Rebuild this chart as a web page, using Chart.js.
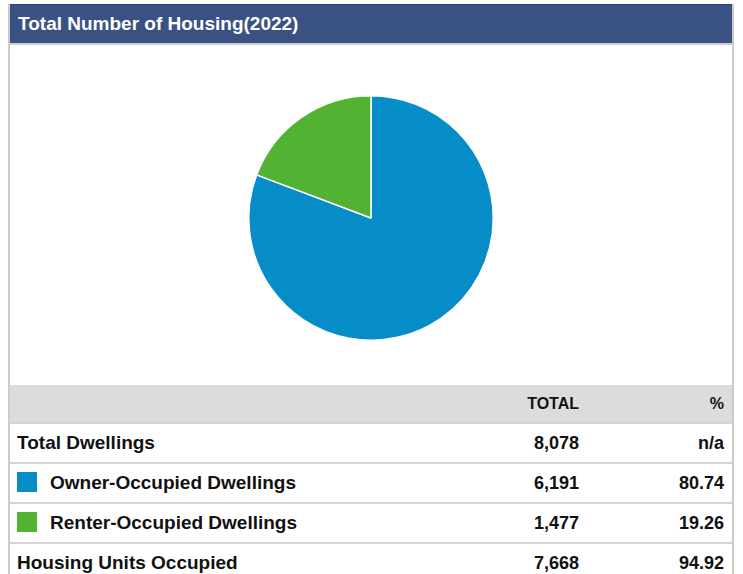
<!DOCTYPE html>
<html>
<head>
<meta charset="utf-8">
<script src="https://cdn.jsdelivr.net/npm/chart.js@4/dist/chart.umd.min.js"></script>
<style>
  html, body { margin: 0; padding: 0; background: #ffffff; }
  body { font-family: "Liberation Sans", Arial, sans-serif; }
  #frame {
    position: absolute; left: 8px; top: 4px; width: 722px;
    border-left: 2px solid #cccccc; border-right: 2px solid #cccccc;
  }
  #title {
    height: 38px; background: #3a5184; border-top: 1px solid #2b4177;
    color: #ffffff; font-weight: bold; font-size: 19px; line-height: 38px;
    padding-left: 8px; border-bottom: 2px solid #cfcfcf; box-sizing: content-box;
  }
  #chartBox { position: relative; width: 722px; height: 340px; }
  table { border-collapse: collapse; width: 722px; table-layout: fixed; }
  td { font-weight: bold; color: #111111; padding: 0; height: 38px; border-bottom: 2px solid #d4d4d4; }
  tr.head td { background: #dcdcdc; font-size: 16px; height: 37px; }
  td.lab { font-size: 19px; padding-left: 7px; }
  td.num { font-size: 18px; text-align: right; padding-right: 10px; }
  td.pct { font-size: 18px; text-align: right; padding-right: 8px; }
  tr.head td.num, tr.head td.pct { font-size: 16px; }
  .sw { display: inline-block; width: 20px; height: 20px; vertical-align: middle; margin-right: 13px; position: relative; top: -2px; }
</style>
</head>
<body>
<div id="frame">
  <div id="title">Total Number of Housing(2022)</div>
  <div id="chartBox"><canvas id="c" width="722" height="340"></canvas></div>
  <table id="tbl">
    <colgroup><col style="width:440px"><col style="width:139px"><col style="width:143px"></colgroup>
    <tbody id="tb"></tbody>
  </table>
</div>
<script>
const categories = ["Owner-Occupied Dwellings", "Renter-Occupied Dwellings"];
const values = [6191, 1477];
const percents = ["80.74", "19.26"];
const colors = ["#068dc8", "#52b232"];
const columnHeaders = ["", "TOTAL", "%"];
const totalRow = ["Total Dwellings", "8,078", "n/a"];
const occupiedRow = ["Housing Units Occupied", "7,668", "94.92"];

const tb = document.getElementById('tb');
function addRow(cells, cls, swatch) {
  const tr = document.createElement('tr');
  if (cls) tr.className = cls;
  const c0 = document.createElement('td'); c0.className = 'lab';
  if (swatch) {
    const s = document.createElement('span'); s.className = 'sw'; s.style.background = swatch; c0.appendChild(s);
  }
  c0.appendChild(document.createTextNode(cells[0]));
  const c1 = document.createElement('td'); c1.className = 'num'; c1.textContent = cells[1];
  const c2 = document.createElement('td'); c2.className = 'pct'; c2.textContent = cells[2];
  tr.appendChild(c0); tr.appendChild(c1); tr.appendChild(c2);
  tb.appendChild(tr);
}
addRow(columnHeaders, 'head');
addRow(totalRow);
categories.forEach((c, i) => addRow([c, values[i].toLocaleString('en-US'), percents[i]], null, colors[i]));
addRow(occupiedRow);

new Chart(document.getElementById('c'), {
  type: 'pie',
  data: {
    labels: categories,
    datasets: [{ data: values, backgroundColor: colors, borderColor: '#ffffff', borderWidth: 1.5 }]
  },
  options: {
    responsive: false,
    animation: false,
    layout: { padding: { top: 50, bottom: 44, left: 0, right: 0 } },
    plugins: { legend: { display: false }, tooltip: { enabled: false }, title: { display: false } }
  }
});
</script>
</body>
</html>
